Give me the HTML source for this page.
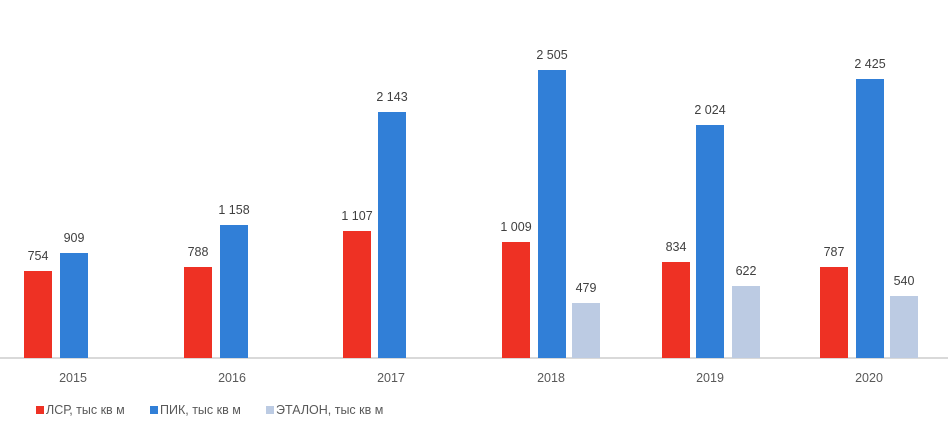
<!DOCTYPE html>
<html><head><meta charset="utf-8"><style>
body{margin:0;width:948px;height:428px;background:#fff;position:relative;overflow:hidden;font-family:"Liberation Sans","DejaVu Sans",sans-serif;color:#404040}
.b{position:absolute;width:28px;bottom:70px}
.r{background:#ee3124}.u{background:#317fd7}.l{background:#bccbe3}
.v{position:absolute;width:60px;text-align:center;font-size:12.5px;color:#404040}
.y{position:absolute;top:371px;width:60px;text-align:center;font-size:12.5px;color:#595959}
.ax{position:absolute;left:0;top:357px;width:948px;height:2px;background:#d9d9d9}
.lg{position:absolute;top:403px;font-size:12.5px;color:#595959}
.sq{display:inline-block;width:8px;height:8px;margin-right:2px;vertical-align:0px}
</style></head><body>
<div class="ax"></div>
<div id="c"></div>
<div class="lg" style="left:36px"><span class="sq r"></span>ЛСР, тыс кв м</div>
<div class="lg" style="left:150px"><span class="sq u"></span>ПИК, тыс кв м</div>
<div class="lg" style="left:266px"><span class="sq l"></span>ЭТАЛОН, тыс кв м</div>
<script>
var d=[[2015,[24,754],[60,909],null,73],[2016,[184,788],[220,1158],null,232],[2017,[343,1107],[378,2143],null,391],[2018,[502,1009],[538,2505],[572,479],551],[2019,[662,834],[696,2024],[732,622],710],[2020,[820,787],[856,2425],[890,540],869]];
var h='';
function f(n){var s=String(n);return s.length>3?s.slice(0,-3)+' '+s.slice(-3):s;}
d.forEach(function(g){
 [[g[1],'r'],[g[2],'u'],[g[3],'l']].forEach(function(p){
  if(!p[0])return;var x=p[0][0],v=p[0][1],ht=Math.round(v*0.1150);
  h+='<div class="b '+p[1]+'" style="left:'+x+'px;height:'+ht+'px"></div>';
  h+='<div class="v" style="left:'+(x-16)+'px;top:'+(358-ht-22)+'px">'+f(v)+'</div>';
 });
 h+='<div class="y" style="left:'+(g[4]-30)+'px">'+g[0]+'</div>';
});
document.getElementById('c').innerHTML=h;
</script>
</body></html>
